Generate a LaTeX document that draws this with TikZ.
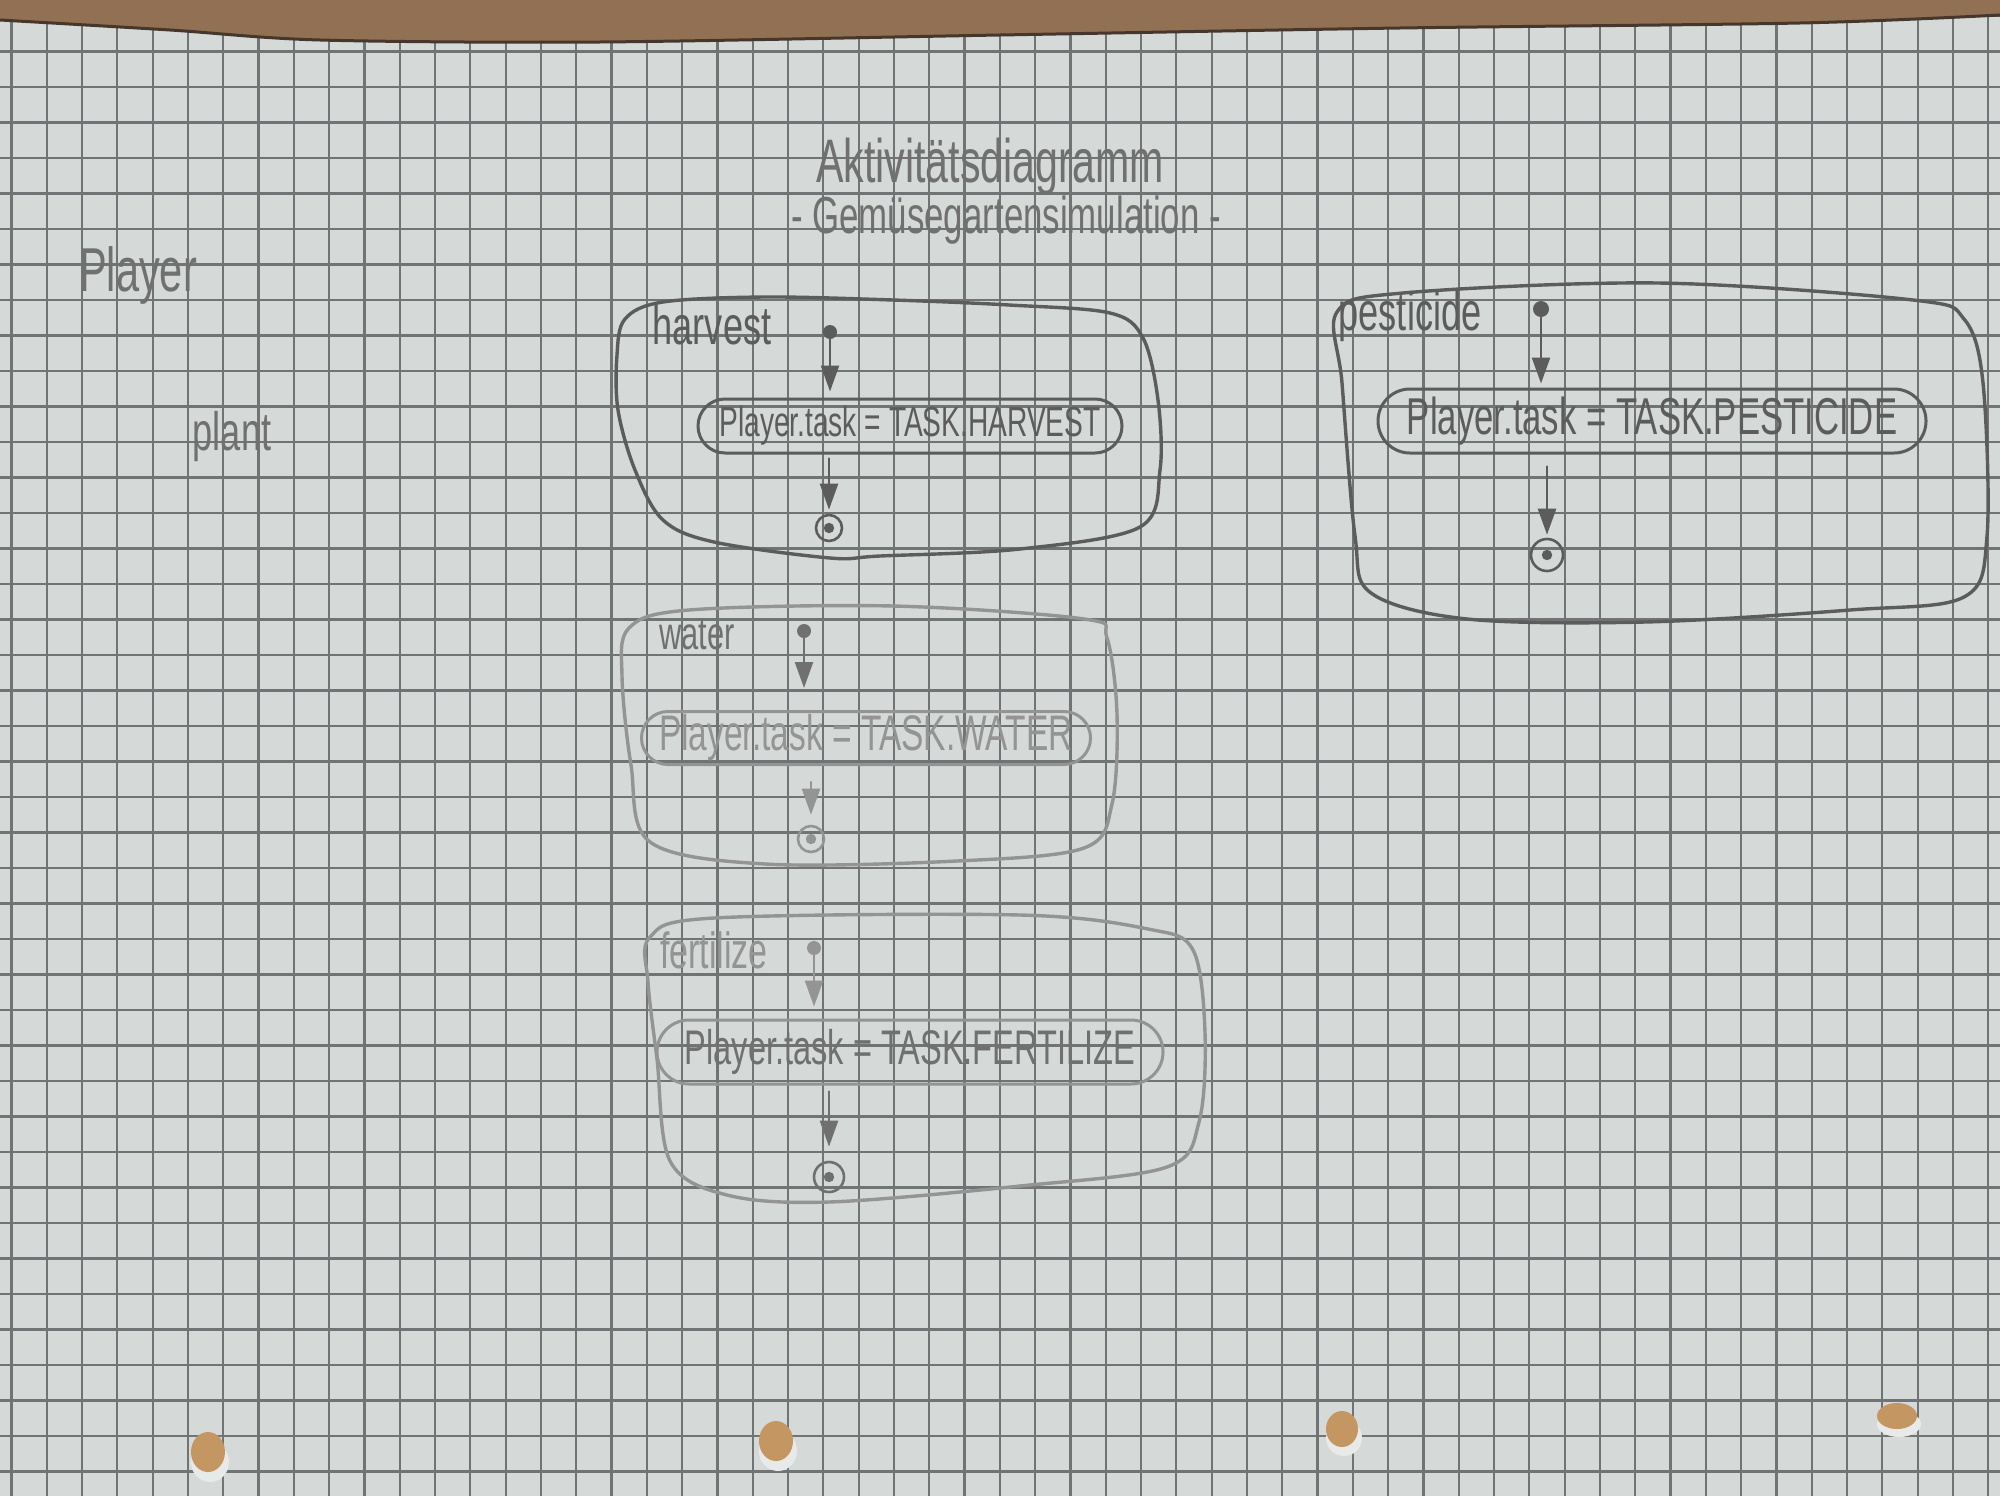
\documentclass[tikz,border=0pt]{standalone}
\usepackage{fontspec}
\newfontfamily\pencilfont[FakeStretch=0.67]{Liberation Sans}
\usetikzlibrary{shapes.misc,arrows.meta}

\definecolor{paper}{RGB}{213,217,215}
\definecolor{gridline}{RGB}{112,116,116}
\definecolor{wood}{RGB}{146,112,84}
\definecolor{woodedge}{RGB}{70,55,45}
\definecolor{holecol}{RGB}{196,150,98}
\definecolor{leaddark}{RGB}{92,92,92}
\definecolor{leadmid}{RGB}{112,112,112}
\definecolor{leadlight}{RGB}{148,148,148}

% handwriting-like text at a given size in bp
\newcommand{\pencilsize}[1]{\pencilfont\fontsize{#1bp}{#1bp}\selectfont}

\tikzset{
  pencil/.style={line cap=round, line join=round},
  blob/.style={pencil, line width=1.7bp},
  handtext/.style={inner sep=0pt, anchor=center},
  action/.style={rounded rectangle, draw, pencil, inner sep=0pt, line width=1.5bp},
  startdot/.style={circle, fill, inner sep=0pt, minimum size=7bp},
  enddot/.style={circle, draw, line width=1.3bp, inner sep=0pt, minimum size=13bp,
    path picture={\fill (path picture bounding box.center) circle (2.6bp);}},
  flow/.style={pencil, line width=1.2bp, -{Triangle[width=9bp,length=13bp]}},
}

\begin{document}
\begin{tikzpicture}[x=0.5bp, y=-0.5bp]
\useasboundingbox (0,0) rectangle (2000,1496);

\begin{scope}
\clip (0,0) rectangle (2000,1496);
% sheet of squared paper
\fill[paper] (0,0) rectangle (2000,1496);
\foreach \i in {-23,...,35}
  \draw[gridline, line width=1.1bp] ({788+35.3*\i},0) -- ({788+35.3*\i},1496);
\foreach \k in {-1,...,41}
  \draw[gridline, line width=1.1bp] (0,{51.5+35.5*\k}) -- (2000,{51.5+35.5*\k});

% table showing above the top edge
\fill[wood] (0,0) -- plot[smooth] coordinates {(0,20) (170,30) (320,40) (600,42) (1000,35) (1400,28) (1800,23) (2000,15)} -- (2000,0) -- cycle;
\draw[woodedge, line width=1.5bp] plot[smooth] coordinates {(0,20) (170,30) (320,40) (600,42) (1000,35) (1400,28) (1800,23) (2000,15)};

% punched holes
\fill[white!45!paper] (210,1462) ellipse (19 and 20);
\fill[holecol] (208,1452) ellipse (17 and 20);
\fill[white!45!paper] (778,1451) ellipse (19 and 20);
\fill[holecol] (776,1441) ellipse (17 and 20);
\fill[white!45!paper] (1344,1438) ellipse (18 and 18);
\fill[holecol] (1342,1429) ellipse (16 and 18);
\fill[white!45!paper] (1899,1424) ellipse (22 and 13);
\fill[holecol] (1897,1416) ellipse (20 and 13);
\end{scope}

% heading
\node[handtext, text=leadmid] (title) at (990,167) {\pencilsize{30.7}Aktivitätsdiagramm};
\node[handtext, text=leadmid] (subtitle) at (1006,220) {\pencilsize{26}- Gemüsegartensimulation -};

% actor and its plain action
\node[handtext, text=leadmid] (actor) at (138,275) {\pencilsize{31}Player};
\node[handtext, text=leadmid] (plant) at (232,437) {\pencilsize{27}plant};

% ---- harvest ----
\draw[blob, leaddark] plot[smooth cycle, tension=0.55] coordinates {
  (625,319) (663,302) (765,297) (893,300) (1009,305) (1110,313) (1143,338)
  (1158,400) (1160,470) (1140,527) (1020,549) (880,556) (830,558) (714,542)
  (663,520) (635,470) (618,410) (617,355)};
\node[handtext, text=leaddark] (harvestlbl) at (712,325) {\pencilsize{27}harvest};
\node[startdot, leaddark] (hstart) at (830,332) {};
\node[action, leaddark, minimum width=212bp, minimum height=27bp] (hact) at (910,426)
  {\pencilsize{21}Player.task = TASK.HARVEST};
\node[enddot, leaddark] (hend) at (829,528) {};
\draw[flow, leaddark, shorten >=3bp] (hstart) -- (hstart |- hact.north);
\draw[flow, leaddark, shorten <=2bp, shorten >=2bp] (hend |- hact.south) -- (hend);

% ---- pesticide ----
\draw[blob, leaddark] plot[smooth cycle, tension=0.55] coordinates {
  (1337,312) (1403,293) (1658,283) (1913,300) (1964,319) (1983,383) (1987,536)
  (1964,597) (1850,610) (1645,622) (1467,619) (1371,593) (1355,536) (1342,383)};
\node[handtext, text=leaddark] (pestlbl) at (1410,317) {\pencilsize{27}pesticide};
\node[startdot, leaddark, minimum size=8bp] (pstart) at (1541,309) {};
\node[action, leaddark, minimum width=274bp, minimum height=32bp] (pact) at (1652,421)
  {\pencilsize{25.9}Player.task = TASK.PESTICIDE};
\node[enddot, leaddark, minimum size=16bp] (pend) at (1547,555) {};
\draw[flow, leaddark, shorten >=2bp] (pstart) -- (pstart |- pact.north);
\draw[flow, leaddark, shorten <=6bp, shorten >=1.5bp] (pend |- pact.south) -- (pend);

% ---- water ----
\draw[blob, leadlight] plot[smooth cycle, tension=0.55] coordinates {
  (629,628) (689,610) (893,606) (1084,619) (1107,638) (1117,714) (1112,804)
  (1084,848) (957,861) (765,864) (650,842) (631,765) (622,676)};
\node[handtext, text=leadmid] (waterlbl) at (697,635) {\pencilsize{23}water};
\node[startdot, leadmid] (wstart) at (804,631) {};
\node[action, leadlight, minimum width=224.5bp, minimum height=26.5bp] (wact) at (866,738)
  {\pencilsize{25}\color{leadlight}Player.task = TASK.WATER};
\node[enddot, leadlight] (wend) at (811,839) {};
\draw[flow, leadmid, shorten >=11bp] (wstart) -- (wstart |- wact.north);
\draw[flow, leadlight, shorten <=8bp, shorten >=5bp] (wend |- wact.south) -- (wend);

% ---- fertilize ----
\draw[blob, leadlight] plot[smooth cycle, tension=0.55] coordinates {
  (650,937) (714,918) (1020,915) (1148,929) (1193,950) (1205,1033) (1199,1122)
  (1167,1167) (1020,1186) (829,1202) (727,1195) (670,1161) (657,1059) (648,982)};
\node[handtext, text=leadlight] (fertlbl) at (714,950) {\pencilsize{25.4}fertilize};
\node[startdot, leadlight] (fstart) at (814,948) {};
\node[action, leadlight, minimum width=253bp, minimum height=32bp] (fact) at (910,1052)
  {\pencilsize{24.3}\color{leadmid}Player.task = TASK.FERTILIZE};
\node[enddot, leadmid, minimum size=15bp] (fend) at (829,1177) {};
\draw[flow, leadlight, shorten >=6bp] (fstart) -- (fstart |- fact.north);
\draw[flow, leadmid, shorten <=3bp, shorten >=7bp] (fend |- fact.south) -- (fend);
\end{tikzpicture}
\end{document}
